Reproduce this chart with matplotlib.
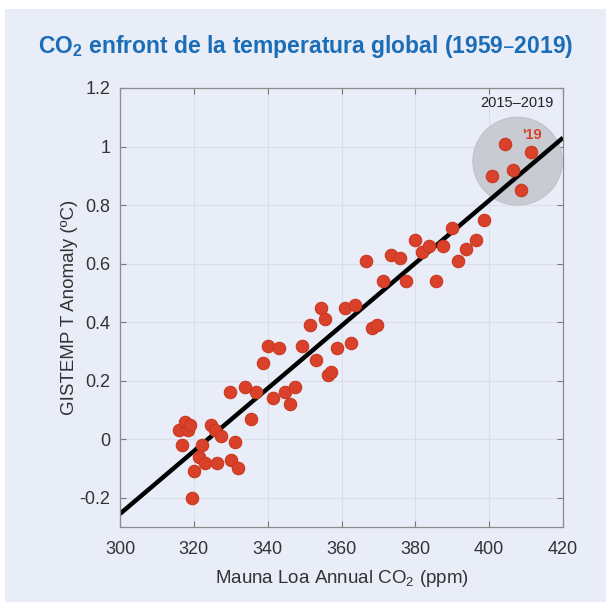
import matplotlib
matplotlib.use("Agg")
import matplotlib.pyplot as plt
from matplotlib.patches import Ellipse, Rectangle
from matplotlib import font_manager

years = list(range(1959, 2020))
co2_ppm = [315.97, 316.91, 317.64, 318.45, 318.99, 319.62, 320.04, 321.37, 322.18, 323.05,
           324.62, 325.68, 326.32, 327.45, 329.68, 330.18, 331.11, 332.04, 333.83, 335.40,
           336.84, 338.75, 340.11, 341.45, 343.05, 344.65, 346.12, 347.42, 349.19, 351.57,
           353.12, 354.39, 355.61, 356.45, 357.10, 358.83, 360.82, 362.61, 363.73, 366.70,
           368.38, 369.55, 371.14, 373.28, 375.80, 377.52, 379.80, 381.90, 383.79, 385.60,
           387.43, 389.90, 391.65, 393.85, 396.52, 398.65, 400.83, 404.24, 406.55, 408.52,
           411.44]
temp_anomaly = [0.03, -0.02, 0.06, 0.03, 0.05, -0.20, -0.11, -0.06, -0.02, -0.08,
                0.05, 0.03, -0.08, 0.01, 0.16, -0.07, -0.01, -0.10, 0.18, 0.07,
                0.16, 0.26, 0.32, 0.14, 0.31, 0.16, 0.12, 0.18, 0.32, 0.39,
                0.27, 0.45, 0.41, 0.22, 0.23, 0.31, 0.45, 0.33, 0.46, 0.61,
                0.38, 0.39, 0.54, 0.63, 0.62, 0.54, 0.68, 0.64, 0.66, 0.54,
                0.66, 0.72, 0.61, 0.65, 0.68, 0.75, 0.90, 1.01, 0.92, 0.85,
                0.98]
fit_x = [300, 420]
fit_y = [-0.255, 1.03]
highlight_center = (407.7, 0.95)
highlight_size = (24.2, 0.30)
x_ticks = [300, 320, 340, 360, 380, 400, 420]
y_ticks = [-0.2, 0, 0.2, 0.4, 0.6, 0.8, 1.0, 1.2]
y_ticklabels = ["-0.2", "0", "0.2", "0.4", "0.6", "0.8", "1", "1.2"]

avail = {f.name for f in font_manager.fontManager.ttflist}
title_family = ["Liberation Sans Narrow", "Liberation Sans", "DejaVu Sans"] if "Liberation Sans Narrow" in avail else ["Liberation Sans", "DejaVu Sans"]
plt.rcParams['font.family'] = ["Liberation Sans", "DejaVu Sans"]

fig = plt.figure(figsize=(6.06, 6.05), dpi=100, facecolor="white")
panel = Rectangle((5/606, 0.005), 1.0, 1 - 9/605 - 0.005, transform=fig.transFigure,
                  facecolor="#e9edf8", edgecolor="none", zorder=-10)
fig.patches.append(panel)

ax = fig.add_axes([120/606, 1 - 527/605, 443/606, 439/605])
ax.set_facecolor("#e9edf8")
ax.set_xlim(300, 420)
ax.set_ylim(-0.3, 1.2)

ax.add_patch(Ellipse(highlight_center, highlight_size[0], highlight_size[1],
                     facecolor="#c8cbd2", edgecolor="#bfc2ca", lw=0.8, zorder=1))
ax.plot(fit_x, fit_y, color="black", lw=3.2, zorder=2, solid_capstyle="butt")
ax.scatter(co2_ppm, temp_anomaly, s=80, facecolor="#d9412a", edgecolor="#c9381f",
           linewidth=0.8, zorder=3)

ax.text(407.5, 1.15, "2015–2019", ha="center", va="center", fontsize=10.5, color="#222222")
ax.text(411.6, 1.04, "'19", ha="center", va="center", fontsize=10.5, color="#d9412a",
        fontweight="bold")

ax.set_xticks(x_ticks)
ax.set_yticks(y_ticks)
ax.set_yticklabels(y_ticklabels)
ax.tick_params(direction="in", length=4, width=0.8, color="#777777",
               labelsize=13, labelcolor="#333333", top=True, right=True, pad=7)
ax.tick_params(axis="x", pad=10)
ax.grid(True, color="#dadee8", lw=0.8)
ax.set_axisbelow(True)
for sp in ax.spines.values():
    sp.set_color("#8c8c8c")
    sp.set_linewidth(0.9)

ax.set_xlabel("Mauna Loa Annual CO$_\\mathregular{2}$ (ppm)", fontsize=13.5, color="#333333", labelpad=7)
ax.set_ylabel("GISTEMP T Anomaly (ºC)", fontsize=13.5, color="#333333", labelpad=1)

fig.text(0.504, 1 - 47/605, "CO$_\\mathregular{2}$ enfront de la temperatura global (1959–2019)",
         ha="center", va="center", fontsize=16.5, fontweight="bold", color="#1a6db6",
         family=title_family)

fig.savefig("out.png", dpi=100, facecolor="white")
